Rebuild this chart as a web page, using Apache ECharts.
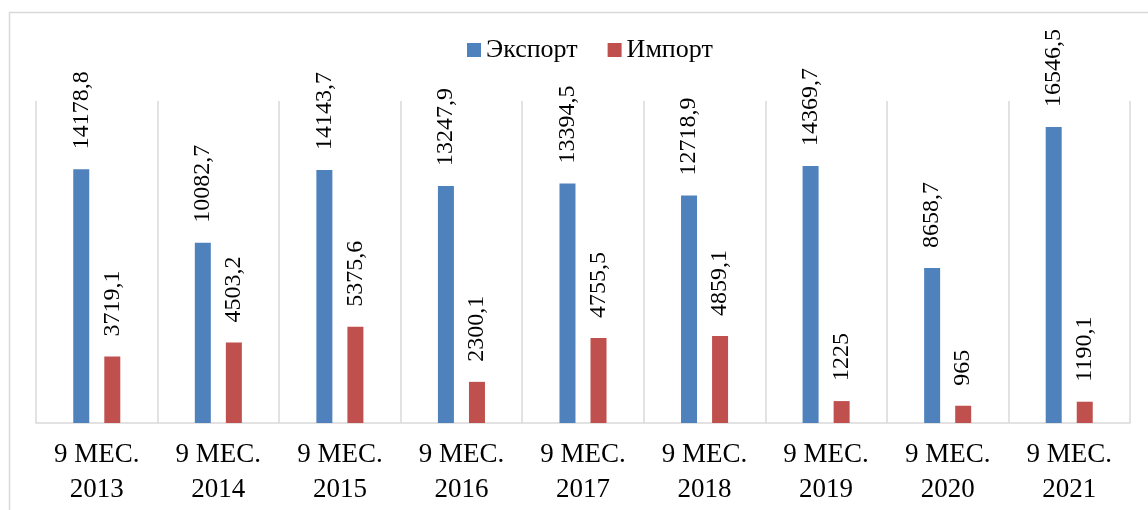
<!DOCTYPE html>
<html><head><meta charset="utf-8">
<script src="https://cdn.jsdelivr.net/npm/echarts@6/dist/echarts.min.js"></script>
<style>html,body{margin:0;padding:0;background:#fff}#c{width:1148px;height:510px}</style>
</head><body><div id="c"></div>
<script>
var categories = ['9 МЕС.\n2013','9 МЕС.\n2014','9 МЕС.\n2015','9 МЕС.\n2016','9 МЕС.\n2017','9 МЕС.\n2018','9 МЕС.\n2019','9 МЕС.\n2020','9 МЕС.\n2021'];
var exportValues = [14178.8, 10082.7, 14143.7, 13247.9, 13394.5, 12718.9, 14369.7, 8658.7, 16546.5];
var importValues = [3719.1, 4503.2, 5375.6, 2300.1, 4755.5, 4859.1, 1225, 965, 1190.1];
var seriesNames = ['Экспорт', 'Импорт'];

var font = '"Liberation Serif", "DejaVu Serif", serif';
function fmt(v){ return String(v).replace('.', ','); }
var labelCfg = {
  show: true, position: 'top', rotate: 90, align: 'left', verticalAlign: 'middle',
  distance: 20, fontFamily: font, fontSize: 24, color: '#000',
  formatter: function(p){ return fmt(p.value); }
};
var chart = echarts.init(document.getElementById('c'));
chart.setOption({
  animation: false,
  graphic: [{ type: 'rect', left: 7, top: 10, shape: { width: 1145, height: 510 },
    style: { fill: 'none', stroke: '#d9d9d9', lineWidth: 1.5 }, silent: true }],
  legend: {
    data: seriesNames, top: 32, left: 462, itemWidth: 14, itemHeight: 14, itemGap: 30,
    icon: 'rect', textStyle: { fontFamily: font, fontSize: 26, color: '#000' }
  },
  grid: { left: 36, right: 18, top: 101, bottom: 87 },
  xAxis: {
    type: 'category', data: categories,
    axisLine: { lineStyle: { color: '#d9d9d9', width: 1.5 } },
    axisTick: { show: false },
    splitLine: { show: true, interval: 0, lineStyle: { color: '#d9d9d9', width: 1.5 } },
    axisLabel: { interval: 0, margin: 14, fontFamily: font, fontSize: 27, lineHeight: 35, color: '#000' }
  },
  yAxis: { type: 'value', min: 0, max: 18000, show: false, splitLine: { show: false } },
  series: [
    { name: seriesNames[0], type: 'bar', data: exportValues, barWidth: 16, barGap: '94%',
      itemStyle: { color: '#4f81bd' }, label: labelCfg },
    { name: seriesNames[1], type: 'bar', data: importValues, barWidth: 16, barGap: '94%',
      itemStyle: { color: '#c0504d' }, label: labelCfg }
  ]
});
</script></body></html>
